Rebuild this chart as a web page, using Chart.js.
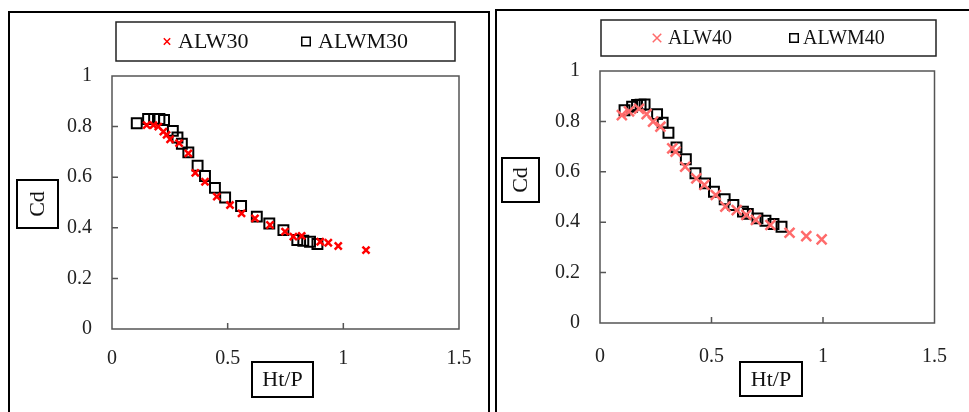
<!DOCTYPE html>
<html lang="en">
<head>
<meta charset="UTF-8" />
<title>Cd vs Ht/P</title>
<style>
  body { margin: 0; background: #fff; width: 969px; height: 412px; overflow: hidden; position: relative; }
  .panel { position: absolute; border: 2px solid #000; }
  #p1 { left: 8px; top: 11px; width: 478px; height: 420px; }
  #p2 { left: 495px; top: 9px; width: 480px; height: 420px; }
  canvas { position: absolute; top: 0; }
</style>
</head>
<body>
<div class="panel" id="p1"></div>
<div class="panel" id="p2"></div>
<canvas id="c1" width="490" height="412" style="left:0"></canvas>
<canvas id="c2" width="479" height="412" style="left:490px"></canvas>

<script src="https://cdn.jsdelivr.net/npm/chart.js"></script>
<script>
  // axis ticks
  const xTickValues = [0, 0.5, 1, 1.5];
  const yTickValues = [0, 0.2, 0.4, 0.6, 0.8, 1];

  // left panel
  const alw30X  = [0.15, 0.179, 0.2, 0.222, 0.236, 0.251, 0.29, 0.33, 0.36, 0.402, 0.453, 0.51, 0.56, 0.618, 0.683, 0.748, 0.784, 0.82, 0.9, 0.935, 0.978, 1.098];
  const alw30Y  = [0.806, 0.806, 0.8, 0.78, 0.767, 0.75, 0.735, 0.694, 0.617, 0.582, 0.523, 0.49, 0.457, 0.437, 0.411, 0.385, 0.365, 0.368, 0.345, 0.341, 0.328, 0.312];
  const alwm30X = [0.107, 0.156, 0.182, 0.205, 0.225, 0.263, 0.283, 0.302, 0.33, 0.37, 0.402, 0.445, 0.489, 0.558, 0.626, 0.68, 0.741, 0.801, 0.827, 0.856, 0.888];
  const alwm30Y = [0.813, 0.83, 0.83, 0.83, 0.826, 0.783, 0.757, 0.732, 0.698, 0.645, 0.605, 0.558, 0.52, 0.486, 0.444, 0.417, 0.391, 0.352, 0.349, 0.345, 0.336];

  // right panel
  const alw40X  = [0.098, 0.13, 0.175, 0.209, 0.238, 0.271, 0.324, 0.339, 0.382, 0.432, 0.468, 0.519, 0.562, 0.613, 0.656, 0.699, 0.764, 0.85, 0.925, 0.994];
  const alw40Y  = [0.825, 0.84, 0.85, 0.829, 0.799, 0.779, 0.693, 0.68, 0.62, 0.574, 0.548, 0.508, 0.462, 0.448, 0.429, 0.409, 0.389, 0.358, 0.345, 0.332];
  const alwm40X = [0.11, 0.144, 0.166, 0.182, 0.2, 0.256, 0.281, 0.307, 0.343, 0.385, 0.428, 0.471, 0.511, 0.559, 0.598, 0.641, 0.663, 0.706, 0.742, 0.778, 0.814];
  const alwm40Y = [0.844, 0.858, 0.865, 0.866, 0.867, 0.829, 0.795, 0.755, 0.697, 0.65, 0.594, 0.554, 0.521, 0.491, 0.468, 0.442, 0.433, 0.415, 0.406, 0.393, 0.382];

  const pts = (xs, ys) => xs.map((x, i) => ({ x: x, y: ys[i] }));
  const serif = "'Liberation Serif', 'DejaVu Serif', serif";

  // frame, inner ticks, boxed axis titles and boxed legend
  const decoPlugin = {
    id: 'deco',
    afterDraw(chart, args, o) {
      const ctx = chart.ctx;
      const a = chart.chartArea;
      const xs = chart.scales.x, ys = chart.scales.y;
      ctx.save();
      ctx.strokeStyle = '#555';
      ctx.lineWidth = 1.5;
      ctx.strokeRect(a.left, a.top, a.right - a.left, a.bottom - a.top);
      ctx.beginPath();
      xTickValues.slice(1, -1).forEach(v => {
        const px = xs.getPixelForValue(v);
        ctx.moveTo(px, a.bottom); ctx.lineTo(px, a.bottom - 6);
      });
      yTickValues.slice(1, -1).forEach(v => {
        const py = ys.getPixelForValue(v);
        ctx.moveTo(a.left, py); ctx.lineTo(a.left + 6, py);
      });
      ctx.stroke();

      ctx.fillStyle = '#111';
      ctx.textAlign = 'center';
      ctx.textBaseline = 'middle';
      ctx.strokeStyle = '#000';
      ctx.lineWidth = 2;

      // x title
      const xt = o.xTitle;
      ctx.font = xt.size + 'px ' + serif;
      ctx.strokeRect(xt.cx - xt.w / 2, xt.cy - xt.h / 2, xt.w, xt.h);
      ctx.fillText(xt.text, xt.cx, xt.cy + 1);

      // y title
      const yt = o.yTitle;
      ctx.strokeRect(yt.cx - yt.w / 2, yt.cy - yt.h / 2, yt.w, yt.h);
      ctx.save();
      ctx.translate(yt.cx + 1, yt.cy);
      ctx.rotate(-Math.PI / 2);
      ctx.fillText(yt.text, 0, 0);
      ctx.restore();

      // legend
      const lg = o.legend;
      ctx.lineWidth = 1.5;
      ctx.strokeStyle = '#222';
      ctx.strokeRect(lg.left, lg.top, lg.right - lg.left, lg.bottom - lg.top);
      ctx.font = lg.size + 'px ' + serif;
      ctx.textAlign = 'left';
      const cy = (lg.top + lg.bottom) / 2;
      chart.data.datasets.forEach((ds, i) => {
        ctx.strokeStyle = ds.borderColor;
        ctx.fillStyle = 'rgba(0,0,0,0)';
        Chart.helpers.drawPoint(ctx, {
          pointStyle: ds.pointStyle,
          radius: lg.markerRadius[i],
          borderWidth: ds.borderWidth,
          rotation: 0
        }, lg.markerX[i], cy);
        ctx.fillStyle = '#111';
        ctx.fillText(ds.label, lg.textX[i], cy + 1);
      });
      ctx.restore();
    }
  };

  function makeChart(id, sets, pad, deco) {
    new Chart(document.getElementById(id), {
      type: 'scatter',
      data: { datasets: sets },
      plugins: [decoPlugin],
      options: {
        responsive: false,
        animation: false,
        layout: { padding: pad.layout },
        plugins: { legend: { display: false }, tooltip: { enabled: false }, deco: deco },
        scales: {
          x: {
            type: 'linear', min: 0, max: 1.5,
            afterBuildTicks: s => { s.ticks = xTickValues.map(v => ({ value: v })); },
            afterFit: s => { s.height = pad.xHeight; },
            grid: { display: false, drawTicks: false },
            border: { display: false },
            ticks: { padding: pad.xTickPad, color: '#222', font: { family: serif, size: 20 }, callback: v => String(v) }
          },
          y: {
            type: 'linear', min: 0, max: 1,
            afterBuildTicks: s => { s.ticks = yTickValues.map(v => ({ value: v })); },
            afterFit: s => { s.width = 52; },
            grid: { display: false, drawTicks: false },
            border: { display: false },
            ticks: { padding: 20, color: '#222', font: { family: serif, size: 20 }, callback: v => String(v) }
          }
        }
      }
    });
  }

  makeChart('c1', [
    { label: 'ALW30', data: pts(alw30X, alw30Y), pointStyle: 'crossRot', radius: 5, borderWidth: 2.5, borderColor: '#ff0000', backgroundColor: '#ff0000' },
    { label: 'ALWM30', data: pts(alwm30X, alwm30Y), pointStyle: 'rect', radius: 7, borderWidth: 2, borderColor: '#000000', backgroundColor: 'rgba(0,0,0,0)' }
  ], {
    layout: { left: 60, right: 31, top: 76, bottom: 0 }, xHeight: 83, xTickPad: 18
  }, {
    legend: { left: 116, right: 455, top: 22, bottom: 61, size: 22, markerX: [167, 306], markerRadius: [4.5, 6], textX: [178, 318] },
    xTitle: { text: 'Ht/P', cx: 282.5, cy: 379.5, w: 61, h: 35, size: 22 },
    yTitle: { text: 'Cd', cx: 37.5, cy: 204, w: 41, h: 48, size: 22 }
  });

  makeChart('c2', [
    { label: 'ALW40', data: pts(alw40X, alw40Y), pointStyle: 'crossRot', radius: 7, borderWidth: 2.5, borderColor: '#ff6b6b', backgroundColor: '#ff6b6b' },
    { label: 'ALWM40', data: pts(alwm40X, alwm40Y), pointStyle: 'rect', radius: 7, borderWidth: 2, borderColor: '#000000', backgroundColor: 'rgba(0,0,0,0)' }
  ], {
    layout: { left: 58, right: 22, top: 71, bottom: 0 }, xHeight: 89, xTickPad: 22
  }, {
    legend: { left: 111, right: 446, top: 20, bottom: 56, size: 20, markerX: [167, 304], markerRadius: [6, 6], textX: [178, 313] },
    xTitle: { text: 'Ht/P', cx: 281, cy: 379, w: 62, h: 34, size: 22 },
    yTitle: { text: 'Cd', cx: 30.5, cy: 180, w: 37, h: 44, size: 22 }
  });
</script>
</body>
</html>
